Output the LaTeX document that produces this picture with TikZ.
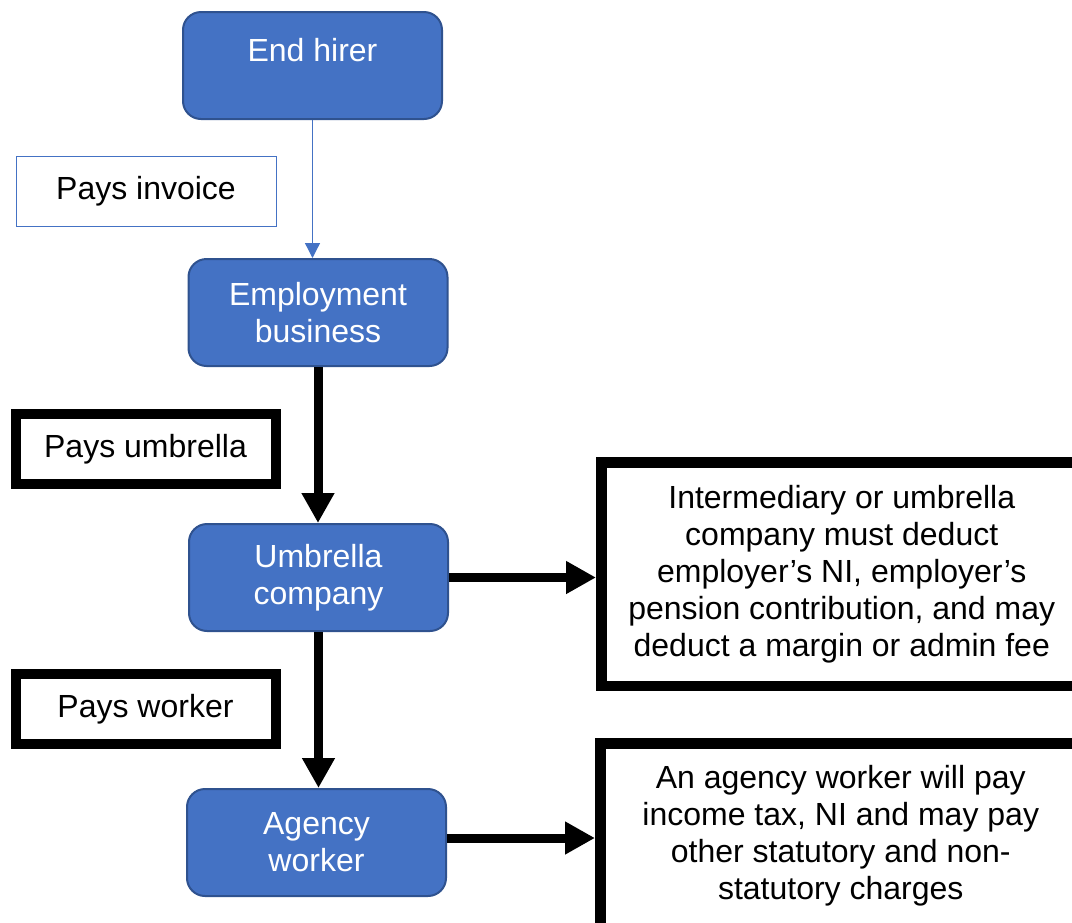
\documentclass[tikz,border=0pt]{standalone}
\usepackage{fontspec}
\setmainfont{Liberation Sans}
\usetikzlibrary{arrows.meta}
\definecolor{partyblue}{HTML}{4472C4}
\definecolor{partyedge}{HTML}{2F528F}

\begin{document}
\begin{tikzpicture}[
        x=1pt, y=-1pt,
        every node/.style={rectangle, align=center, font=\fontsize{32}{37}\selectfont},
        party/.style={draw=partyedge, line width=2pt, fill=partyblue, text=white, rounded corners=18pt, minimum width=259pt, minimum height=107pt},
        payment/.style={draw, line width=10pt, minimum width=260pt, minimum height=70pt},
        invoice/.style={draw=partyblue, line width=1pt, minimum width=260pt, minimum height=70pt},
        note/.style={draw, line width=10.5pt, minimum width=481pt},
        arrow/.style={-{Triangle[width=31pt,length=30pt]}, line width=9pt},
        thinarrow/.style={-{Triangle[width=15pt,length=15pt]}, partyblue, line width=1.3pt}
    ]
        \clip (0,0) rectangle (1072,922);

        % Chain of parties
        \node[party] (hirer) at (312.5,65.5) {End hirer\\[-16pt]\strut};
        \node[party] (employ) at (318,312.5) {Employment\\business};
        \node[party] (umbrella) at (318.5,577.5) {Umbrella\\company};
        \node[party] (agency) at (316.5,842.5) {Agency\\worker};

        % Payment labels
        \node[invoice] (invoice) at (146,191) {Pays invoice};
        \node[payment] (payumbrella) at (145.5,448.75) {Pays umbrella};
        \node[payment] (payworker) at (145.5,709) {Pays worker};

        % Notes
        \node[note, minimum height=223.5pt] (deductions) at (841.75,574.25)
            {Intermediary or umbrella\\company must deduct\\employer’s NI, employer’s\\pension contribution, and may\\deduct a margin or admin fee};
        \node[note, minimum height=185pt] (charges) at (840.75,836)
            {An agency worker will pay\\income tax, NI and may pay\\other statutory and non-\\statutory charges};

        % Money flow
        \draw[thinarrow] (hirer.south) -- (hirer.south |- employ.north);
        \draw[arrow] (employ.south) -- (employ.south |- umbrella.north);
        \draw[arrow] (umbrella.south) -- (umbrella.south |- agency.north);
        \draw[arrow] (umbrella.east) -- (umbrella.east -| deductions.west);
        \draw[arrow] ([yshift=4.5pt]agency.east) -- ([yshift=4.5pt]agency.east -| charges.west);
\end{tikzpicture}
\end{document}
